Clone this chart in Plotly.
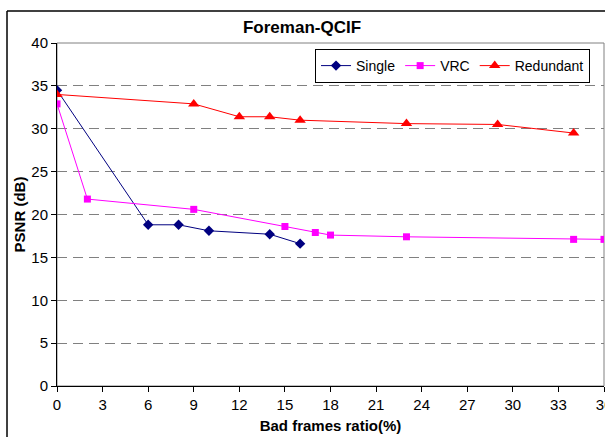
import plotly.graph_objects as go

NAVY = "#000080"
MAGENTA = "#FF00FF"
RED = "#FF0000"

single_x = [0, 6, 8, 10, 14, 16]
single_y = [34.5, 18.8, 18.8, 18.1, 17.7, 16.6]

vrc_x = [0, 2, 9, 15, 17, 18, 23, 34, 36]
vrc_y = [32.9, 21.8, 20.6, 18.6, 17.9, 17.6, 17.4, 17.1, 17.1]

red_x = [0, 9, 12, 14, 16, 23, 29, 34]
red_y = [34.0, 32.9, 31.4, 31.4, 31.0, 30.6, 30.5, 29.5]

FONT = "Liberation Sans, Arial, sans-serif"

fig = go.Figure()
fig.add_trace(go.Scatter(
    x=single_x, y=single_y, name="Single", mode="lines+markers",
    line=dict(color=NAVY, width=1),
    marker=dict(symbol="diamond", size=8, color=NAVY),
))
fig.add_trace(go.Scatter(
    x=vrc_x, y=vrc_y, name="VRC", mode="lines+markers",
    line=dict(color=MAGENTA, width=1),
    marker=dict(symbol="square", size=7, color=MAGENTA),
))
fig.add_trace(go.Scatter(
    x=red_x, y=red_y, name="Redundant", mode="lines+markers",
    line=dict(color=RED, width=1),
    marker=dict(symbol="triangle-up", size=10, color=RED),
))

# outer chart frame (top and left edges visible) and grey plot border
fig.add_shape(type="line", xref="paper", yref="paper",
              x0=-0.0914, x1=1.02, y0=1.0933, y1=1.0933,
              line=dict(color="black", width=1.5))
fig.add_shape(type="line", xref="paper", yref="paper",
              x0=-0.0914, x1=-0.0914, y0=1.0933, y1=-0.2,
              line=dict(color="black", width=1.5))
fig.add_shape(type="rect", xref="paper", yref="paper",
              x0=0, x1=1, y0=0, y1=1, layer="below",
              line=dict(color="#808080", width=1))

fig.update_layout(
    width=605, height=437,
    margin=dict(l=57, r=1, t=43, b=51, autoexpand=False),
    plot_bgcolor="white", paper_bgcolor="white",
    font=dict(family=FONT, size=15, color="black"),
    title=dict(text="<b>Foreman-QCIF</b>", x=(302 / 605), xanchor="center",
               y=1 - 27 / 437, yanchor="middle",
               font=dict(size=17, family=FONT)),
    legend=dict(orientation="h", x=0.4717, y=0.9825, xanchor="left", yanchor="top",
                bordercolor="black", borderwidth=1, bgcolor="white",
                font=dict(size=14, family=FONT)),
    showlegend=True,
)
fig.update_xaxes(
    range=[0, 36], dtick=3, tick0=0, showgrid=False, zeroline=False,
    showline=True, linecolor="black", linewidth=1, automargin=False,
    ticks="outside", ticklen=5, tickcolor="black", ticklabeloverflow="allow",
    title=dict(text="<b>Bad frames ratio(%)</b>", font=dict(size=15), standoff=8),
)
fig.update_yaxes(
    range=[0, 40], dtick=5, showgrid=True, gridcolor="#808080", griddash="10px,6px",
    gridwidth=1, zeroline=False, automargin=False,
    showline=True, linecolor="black", linewidth=1,
    ticks="outside", ticklen=5, tickcolor="black",
    title=dict(text="<b>PSNR (dB)</b>", font=dict(size=15), standoff=2),
)

# page body has a default 8px margin; drop it so the figure sits at 0,0
fig.write_html("out.html", config={"displayModeBar": False},
               post_script="document.body.style.margin='0';")
